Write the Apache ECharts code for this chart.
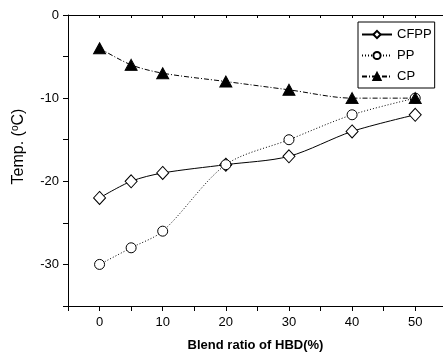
<!DOCTYPE html>
<html>
<head>
<meta charset="utf-8">
<script src="https://cdn.jsdelivr.net/npm/echarts@6/dist/echarts.min.js"></script>
<style>html,body{margin:0;padding:0;background:#fff}#c{width:443px;height:353px}</style>
</head>
<body>
<div id="c"></div>
<script>
var blend = [0, 5, 10, 20, 30, 40, 50];
var cfpp = [-22, -20, -19, -18, -17, -14, -12];
var pp = [-30, -28, -26, -18, -15, -12, -10];
var cp = [-4, -6, -7, -8, -9, -10, -10];
var xTickLabels = ['0', '10', '20', '30', '40', '50'];
var yTickLabels = ['0', '-10', '-20', '-30'];

function pairs(xs, ys) { return xs.map(function (x, i) { return [x, ys[i]]; }); }

var font = 'Liberation Sans, Arial, sans-serif';
var chart = echarts.init(document.getElementById('c'), null, {renderer: 'canvas'});
chart.setOption({
  backgroundColor: '#fff',
  animation: false,
  textStyle: {fontFamily: font},
  grid: {left: 68, top: 15, width: 375, height: 291, containLabel: false, outerBoundsMode: 'none'},
  legend: {
    orient: 'vertical', left: 358, top: 22,
    padding: [6, 3, 5, 3], itemGap: 8, itemWidth: 30, itemHeight: 9,
    borderColor: '#000', borderWidth: 1,
    textStyle: {fontSize: 13, color: '#000', fontFamily: font},
    data: ['CFPP', 'PP', 'CP']
  },
  xAxis: [{
    type: 'value', min: -5, max: 54.4, interval: 5,
    name: 'Blend ratio of HBD(%)', nameLocation: 'middle', nameGap: 33,
    nameTextStyle: {fontSize: 13, fontWeight: 'bold', color: '#000', fontFamily: font},
    axisLine: {onZero: false, lineStyle: {color: '#000', width: 1}},
    axisTick: {inside: false, length: 5, lineStyle: {color: '#000'}},
    axisLabel: {fontSize: 13, color: '#000', margin: 10, fontFamily: font,
      formatter: function (v) { var s = String(v); return xTickLabels.indexOf(s) >= 0 ? s : ''; }},
    splitLine: {show: false}
  }, {
    type: 'value', position: 'top', min: -5, max: 54.4, interval: 5,
    axisLine: {onZero: false, lineStyle: {color: '#000', width: 1}},
    axisTick: {inside: true, length: 3, lineStyle: {color: '#000'}},
    axisLabel: {show: false}, splitLine: {show: false}
  }],
  yAxis: {
    type: 'value', min: -35, max: 0, interval: 5,
    name: '{a|Temp. (}{s|o}{a|C)}', nameLocation: 'middle', nameGap: 40, nameRotate: 90,
    nameTextStyle: {
      padding: [0, 0, 0, 28],
      rich: {
        a: {fontSize: 16, color: '#000', fontFamily: font},
        s: {fontSize: 10, color: '#000', fontFamily: font, verticalAlign: 'top', padding: [0, 0, 8, 0]}
      }
    },
    axisLine: {onZero: false, lineStyle: {color: '#000', width: 1}},
    axisTick: {inside: false, length: 5, lineStyle: {color: '#000'}},
    axisLabel: {fontSize: 13, color: '#000', margin: 9, fontFamily: font,
      formatter: function (v) { var s = String(v); return yTickLabels.indexOf(s) >= 0 ? s : ''; }},
    splitLine: {show: false}
  },
  series: [{
    name: 'CFPP', type: 'line', data: pairs(blend, cfpp), smooth: 0.3,
    symbol: 'diamond', symbolSize: [12, 13],
    lineStyle: {color: '#000', width: 1, type: 'solid'},
    itemStyle: {color: '#fff', borderColor: '#000', borderWidth: 1}
  }, {
    name: 'PP', type: 'line', data: pairs(blend, pp), smooth: 0.3,
    symbol: 'circle', symbolSize: 10,
    lineStyle: {color: '#000', width: 1, type: [1, 2]},
    itemStyle: {color: '#fff', borderColor: '#000', borderWidth: 1}
  }, {
    name: 'CP', type: 'line', data: pairs(blend, cp), smooth: 0.3,
    symbol: 'triangle', symbolSize: [12, 11],
    lineStyle: {color: '#000', width: 1, type: [5, 2, 1, 2]},
    itemStyle: {color: '#000', borderColor: '#000', borderWidth: 1}
  }]
});
</script>
</body>
</html>
